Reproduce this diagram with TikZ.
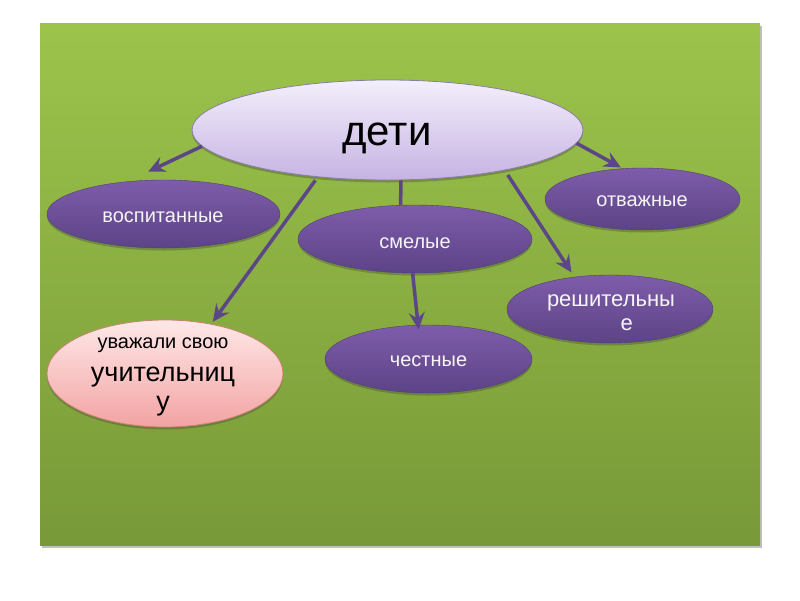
\documentclass[tikz,border=0pt]{standalone}
\usepackage{fontspec}
\setmainfont{Liberation Sans}
\usetikzlibrary{arrows.meta,shapes.geometric,shadows}
\definecolor{bgtop}{HTML}{9CC44B}
\definecolor{bgbot}{HTML}{789938}
\definecolor{purtop}{HTML}{7E5CAA}
\definecolor{purbot}{HTML}{5C4386}
\definecolor{lavtop}{HTML}{F3EFFB}
\definecolor{lavbot}{HTML}{C6B3E3}
\definecolor{lavline}{HTML}{8A7CA6}
\definecolor{pinktop}{HTML}{FFE8E8}
\definecolor{pinkbot}{HTML}{F3A3A3}
\definecolor{pinkline}{HTML}{C9826E}
\definecolor{conncol}{HTML}{5B4787}
\tikzset{
  shad/.style={drop shadow={shadow xshift=0pt, shadow yshift=-2.5pt, opacity=0.3, fill=black!80}},
  ell/.style={ellipse, inner sep=0pt, shad},
  purell/.style={ell, top color=purtop, bottom color=purbot, draw=purbot!90!black, line width=0.4pt},
  lavell/.style={ell, top color=lavtop, bottom color=lavbot, draw=lavline, line width=0.8pt},
  pinkell/.style={ell, top color=pinktop, bottom color=pinkbot, draw=pinkline, line width=0.8pt},
  wtxt/.style={inner sep=0pt, anchor=base, text=white!96!black, font=\fontsize{20}{24}\selectfont},
  btxt/.style={inner sep=0pt, anchor=base, text=black},
  conn/.style={draw=conncol, line width=3.5pt, -{Stealth[length=17pt, width=16pt, inset=6pt]}},
  plainconn/.style={draw=conncol, line width=3.5pt}
}
\begin{document}
\begin{tikzpicture}[x=1pt, y=-1pt]
\useasboundingbox (0,0) rectangle (800,600);
\fill[white] (0,0) rectangle (800,600);
% background panel
\path[top color=bgtop, bottom color=bgbot, drop shadow={shadow xshift=1.5pt, shadow yshift=-2.5pt, opacity=0.35, fill=black!70}] (40,23) rectangle (760,545);

% nodes
\node[lavell, minimum width=391pt, minimum height=100pt] (deti) at (387.5,130) {};
\node[purell, minimum width=233pt, minimum height=68pt] (vosp) at (163.5,214) {};
\node[purell, minimum width=234pt, minimum height=68pt] (smel) at (415,239) {};
\node[purell, minimum width=207pt, minimum height=68pt] (chest) at (428.5,359) {};
\node[purell, minimum width=195pt, minimum height=62pt] (otv) at (642.5,199) {};
\node[purell, minimum width=206pt, minimum height=68pt] (resh) at (610,309) {};
\node[pinkell, minimum width=236pt, minimum height=107pt] (uvazh) at (165,373.5) {};

% texts
\node[btxt, font=\fontsize{42}{50}\selectfont] (detit) at (387,145) {дети};
\node[wtxt] (vospt) at (163,222.7) {воспитанные};
\node[wtxt] (smelt) at (415,248.3) {смелые};
\node[wtxt] (chestt) at (428.5,366.7) {честные};
\node[wtxt] (otvt) at (642,206.7) {отважные};
\node[wtxt, font=\fontsize{22}{26}\selectfont] (resht1) at (611,306.7) {решительны};
\node[wtxt, font=\fontsize{22}{26}\selectfont] (resht2) at (626.7,330) {е};
\node[btxt, font=\fontsize{20}{24}\selectfont] (uvt1) at (163,348.3) {уважали свою};
\node[btxt, font=\fontsize{27}{32}\selectfont] (uvt2) at (163,381.7) {учительниц};
\node[btxt, font=\fontsize{27}{32}\selectfont] (uvt3) at (163,410) {у};

% connectors
\draw[conn, shorten >=23pt] (deti.185.5) -- (vosp.138.5);
\draw[conn, shorten <=4pt, shorten >=2.6pt] (deti.214.5) -- (uvazh.47.1);
\draw[plainconn] (deti.285) -- (smel.113.8);
\draw[conn, shorten <=5.5pt, shorten >=5.3pt] (deti.341.7) -- (resh.138.9);
\draw[conn, shorten >=2pt] (deti.356.65) -- (otv.123.2);
\draw[conn, shorten >=-4.5pt] (smel.266.6) -- (chest.107.2);
\end{tikzpicture}
\end{document}
